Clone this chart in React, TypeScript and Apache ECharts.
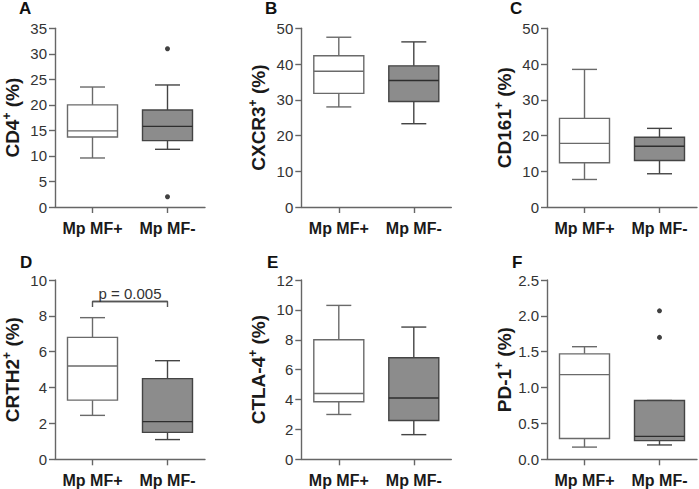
import React, { useEffect, useRef } from 'react';
import * as echarts from 'echarts';

const categories = ['Mp MF+', 'Mp MF-'];
const panelLetters = ['A', 'B', 'C', 'D', 'E', 'F'];
const markerNames = ['CD4', 'CXCR3', 'CD161', 'CRTH2', 'CTLA-4', 'PD-1'];
// [low whisker, Q1, median, Q3, high whisker] for Mp MF+ and Mp MF-
const cd4Box = [[9.6, 13.7, 14.9, 20, 23.5], [11.3, 13, 15.8, 19, 23.9]];
const cxcr3Box = [[28, 31.8, 38, 42.3, 47.5], [23.3, 29.5, 35.4, 39.5, 46.2]];
const cd161Box = [[7.7, 12.4, 17.8, 24.8, 38.5], [9.3, 13, 17, 19.5, 22]];
const crth2Box = [[2.45, 3.3, 5.2, 6.8, 7.9], [1.1, 1.5, 2.1, 4.5, 5.5]];
const ctla4Box = [[3, 3.85, 4.4, 8, 10.3], [1.65, 2.6, 4.1, 6.8, 8.85]];
const pd1Box = [[0.17, 0.29, 1.18, 1.47, 1.57], [0.2, 0.26, 0.32, 0.82, 0.82]];
const cd4Outliers = [['Mp MF-', 31], ['Mp MF-', 2]];
const pd1Outliers = [['Mp MF-', 2.07], ['Mp MF-', 1.7]];
const yMax = [35, 50, 50, 10, 12, 2.5];
const yStep = [5, 10, 10, 2, 2, 0.5];
const pBracket = [['Mp MF+', 8.5], ['Mp MF+', 8.8], ['Mp MF-', 8.8], ['Mp MF-', 8.5]];
const pLabel = 'p = 0.005';

const allBoxes = [cd4Box, cxcr3Box, cd161Box, crth2Box, ctla4Box, pd1Box];

// layout (pixels)
const colLeft = [54, 301.3, 547];
const colWidth = [151, 150, 150];
const rowTop = [28.3, 280];
const rowHeight = [178.7, 179.3];
const letterPos = [[19, 0], [265, 0], [510, 0], [20, 254], [267, 254], [512, 254]];

const FONT = '"Liberation Sans", Arial, Helvetica, sans-serif';

function renderBox(params: any, api: any) {
  const x = api.value(0);
  const vals = [1, 2, 3, 4, 5].map((i) => api.value(i));
  const band = api.size([1, 0])[0];
  const bw = (band * 2) / 3;
  const cw = band / 3;
  const pts = vals.map((v) => api.coord([x, v]));
  const cx = pts[0][0];
  const [yLow, yQ1, yMed, yQ3, yHigh] = pts.map((p: number[]) => p[1]);
  const filled = x === 1;
  const stroke = filled ? '#444444' : '#6a6a6a';
  const fill = filled ? '#8c8c8c' : '#ffffff';
  const medStroke = filled ? '#2e2e2e' : '#6a6a6a';
  const lw = 1.4;
  return {
    type: 'group',
    children: [
      { type: 'line', shape: { x1: cx, y1: yLow, x2: cx, y2: yQ1 }, style: { stroke, lineWidth: lw } },
      { type: 'line', shape: { x1: cx, y1: yHigh, x2: cx, y2: yQ3 }, style: { stroke, lineWidth: lw } },
      { type: 'line', shape: { x1: cx - cw / 2, y1: yLow, x2: cx + cw / 2, y2: yLow }, style: { stroke, lineWidth: lw } },
      { type: 'line', shape: { x1: cx - cw / 2, y1: yHigh, x2: cx + cw / 2, y2: yHigh }, style: { stroke, lineWidth: lw } },
      { type: 'rect', shape: { x: cx - bw / 2, y: yQ3, width: bw, height: yQ1 - yQ3 }, style: { fill, stroke, lineWidth: lw } },
      { type: 'line', shape: { x1: cx - bw / 2, y1: yMed, x2: cx + bw / 2, y2: yMed }, style: { stroke: medStroke, lineWidth: lw } },
    ],
  };
}

export default function App() {
  const ref = useRef<HTMLDivElement>(null);
  useEffect(() => {
    if (!ref.current) return;
    const chart = echarts.init(ref.current, undefined, { renderer: 'svg' });
    const grids: any[] = [];
    const xAxes: any[] = [];
    const yAxes: any[] = [];
    const series: any[] = [];
    for (let i = 0; i < 6; i++) {
      const r = Math.floor(i / 3);
      const c = i % 3;
      grids.push({ left: colLeft[c], top: rowTop[r], width: colWidth[c], height: rowHeight[r] });
      xAxes.push({
        type: 'category',
        gridIndex: i,
        data: categories,
        boundaryGap: true,
        axisLine: { show: true, lineStyle: { color: '#666', width: 1.4 } },
        axisTick: { show: true, alignWithLabel: true, length: 6, lineStyle: { color: '#666', width: 1.4 } },
        axisLabel: {
          interval: 0,
          hideOverlap: false,
          color: '#1a1a1a',
          fontSize: 16,
          fontWeight: 'bold',
          fontFamily: FONT,
          margin: 13,
        },
        splitLine: { show: false },
      });
      yAxes.push({
        type: 'value',
        gridIndex: i,
        min: 0,
        max: yMax[i],
        interval: yStep[i],
        name: `{b|${markerNames[i]}}{s|+}{b| (%)}`,
        nameLocation: 'middle',
        nameRotate: 90,
        nameGap: 32,
        nameTextStyle: {
          rich: {
            b: { fontSize: 19, fontWeight: 'bold', fontFamily: FONT, color: '#1a1a1a', lineHeight: 22 },
            s: { fontSize: 12, fontWeight: 'bold', fontFamily: FONT, color: '#1a1a1a', lineHeight: 13, verticalAlign: 'top' },
          },
        },
        axisLine: { show: true, lineStyle: { color: '#666', width: 1.4 } },
        axisTick: { show: true, length: 6, lineStyle: { color: '#666', width: 1.4 } },
        axisLabel: {
          color: '#333',
          fontSize: 15,
          fontFamily: FONT,
          margin: 8,
          formatter: i === 5 ? (v: number) => v.toFixed(1) : undefined,
        },
        splitLine: { show: false },
      });
      series.push({
        type: 'custom',
        xAxisIndex: i,
        yAxisIndex: i,
        renderItem: renderBox,
        encode: { x: 0, y: [1, 2, 3, 4, 5] },
        data: allBoxes[i].map((b, k) => [k, ...b]),
        z: 2,
      });
    }
    series.push({
      type: 'scatter',
      xAxisIndex: 0,
      yAxisIndex: 0,
      data: cd4Outliers,
      symbol: 'circle',
      symbolSize: 5,
      itemStyle: { color: '#111' },
      z: 3,
    });
    series.push({
      type: 'scatter',
      xAxisIndex: 5,
      yAxisIndex: 5,
      data: pd1Outliers,
      symbol: 'circle',
      symbolSize: 5,
      itemStyle: { color: '#111' },
      z: 3,
    });
    series.push({
      type: 'line',
      xAxisIndex: 3,
      yAxisIndex: 3,
      data: pBracket,
      symbol: 'none',
      lineStyle: { color: '#555', width: 1.4 },
      markLine: {
        silent: true,
        symbol: 'none',
        lineStyle: { color: '#555', width: 1.4, type: 'solid' },
        label: { show: true, position: 'insideMiddleTop', formatter: pLabel, distance: 1, color: '#333', fontSize: 15, fontFamily: FONT },
        data: [[{ coord: [pBracket[1][0], pBracket[1][1]] }, { coord: [pBracket[2][0], pBracket[2][1]] }]],
      },
      z: 3,
    });
    const graphic = panelLetters.map((l, i) => ({
      type: 'text',
      left: letterPos[i][0],
      top: letterPos[i][1],
      style: { text: l, font: `bold 17px ${FONT}`, fill: '#111' },
    }));
    chart.setOption({
      animation: false,
      backgroundColor: '#fff',
      grid: grids,
      xAxis: xAxes,
      yAxis: yAxes,
      series,
      graphic,
    });
    return () => chart.dispose();
  }, []);
  return <div ref={ref} style={{ position: 'absolute', left: 0, top: 0, width: 699, height: 489 }} />;
}
